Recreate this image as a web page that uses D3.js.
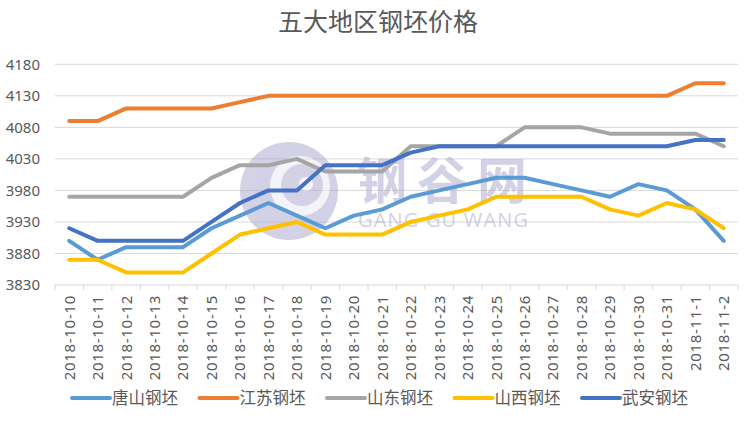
<!DOCTYPE html>
<html>
<head>
<meta charset="utf-8">
<script src="https://cdn.jsdelivr.net/npm/d3@7/dist/d3.min.js"></script>
<style>
  html, body { margin: 0; padding: 0; background: #fff; }
  svg { display: block; }
</style>
</head>
<body>
<svg id="chart" width="750" height="424"></svg>
<script>
const categories = ["2018-10-10","2018-10-11","2018-10-12","2018-10-13","2018-10-14","2018-10-15","2018-10-16","2018-10-17","2018-10-18","2018-10-19","2018-10-20","2018-10-21","2018-10-22","2018-10-23","2018-10-24","2018-10-25","2018-10-26","2018-10-27","2018-10-28","2018-10-29","2018-10-30","2018-10-31","2018-11-1","2018-11-2"];
const seriesNames = ["唐山钢坯","江苏钢坯","山东钢坯","山西钢坯","武安钢坯"];
const tangshan = [3900,3870,3890,3890,3890,3920,3940,3960,3940,3920,3940,3950,3970,3980,3990,4000,4000,3990,3980,3970,3990,3980,3950,3900];
const jiangsu  = [4090,4090,4110,4110,4110,4110,4120,4130,4130,4130,4130,4130,4130,4130,4130,4130,4130,4130,4130,4130,4130,4130,4150,4150];
const shandong = [3970,3970,3970,3970,3970,4000,4020,4020,4030,4010,4010,4010,4050,4050,4050,4050,4080,4080,4080,4070,4070,4070,4070,4050];
const shanxi   = [3870,3870,3850,3850,3850,3880,3910,3920,3930,3910,3910,3910,3930,3940,3950,3970,3970,3970,3970,3950,3940,3960,3950,3920];
const wuan     = [3920,3900,3900,3900,3900,3930,3960,3980,3980,4020,4020,4020,4040,4050,4050,4050,4050,4050,4050,4050,4050,4050,4060,4060];
const yTicks = [3830,3880,3930,3980,4030,4080,4130,4180];
const title = "五大地区钢坯价格";

(function(){
const colors = ["#5B9BD5","#ED7D31","#A5A5A5","#FFC000","#4472C4"];
const seriesValues = [tangshan, jiangsu, shandong, shanxi, wuan];
const series = seriesNames.map((n,i)=>({name:n, values:seriesValues[i], color:colors[i]}));

const svg = d3.select("#chart");
const pLeft = 55, pRight = 738, pTop = 64.3, pBottom = 285;
const font = "'Noto Sans','Noto Sans CJK SC',sans-serif";
const textColor = "#595959";

const x = d3.scaleBand().domain(categories).range([pLeft, pRight]).padding(0);
const xc = d => x(d) + x.bandwidth()/2;
const y = d3.scaleLinear().domain([3830, 4180]).range([pBottom, pTop]);

// title
svg.append("text").attr("x", 378).attr("y", 31)
  .attr("text-anchor","middle").attr("font-family", "'Noto Sans CJK SC',sans-serif")
  .attr("font-size", 25).attr("fill", textColor).text(title);

// gridlines
svg.append("g").selectAll("line").data(yTicks).join("line")
  .attr("x1", pLeft).attr("x2", pRight)
  .attr("y1", d=>y(d)).attr("y2", d=>y(d))
  .attr("stroke", "#d9d9d9").attr("stroke-width", 1);

// y labels
svg.append("g").selectAll("text").data(yTicks).join("text")
  .attr("x", 40).attr("y", d=>y(d)).attr("dy","0.36em")
  .attr("text-anchor","end").attr("font-family", font).attr("font-size", 15)
  .attr("fill", textColor).text(d=>d);

// x tick marks
const tickPos = categories.map(c=>x(c)).concat([pRight]);
svg.append("g").selectAll("line").data(tickPos).join("line")
  .attr("x1", d=>d).attr("x2", d=>d).attr("y1", pBottom).attr("y2", pBottom+5)
  .attr("stroke", "#d9d9d9").attr("stroke-width", 1);

// x labels
svg.append("g").selectAll("text").data(categories).join("text")
  .attr("transform", d=>`translate(${xc(d)},295) rotate(-90)`)
  .attr("dy","0.36em").attr("text-anchor","end")
  .attr("font-family", font).attr("font-size", 15).attr("letter-spacing", 0.7)
  .attr("fill", textColor).text(d=>d);

// watermark
const wm = svg.append("g").attr("opacity", 0.5);
wm.append("circle").attr("cx", 289).attr("cy", 191).attr("r", 49).attr("fill", "#a9a5cc");
wm.append("circle").attr("cx", 300).attr("cy", 186).attr("r", 30).attr("fill", "#ffffff").attr("opacity",0.75);
wm.append("circle").attr("cx", 302).attr("cy", 185).attr("r", 21).attr("fill", "#a9a5cc");
wm.append("circle").attr("cx", 306).attr("cy", 184).attr("r", 7).attr("fill", "#ffffff").attr("opacity",0.8);
wm.append("text").attr("x", 357).attr("y", 199).attr("textLength", 170)
  .attr("font-family","'Noto Sans CJK SC',sans-serif").attr("font-weight","bold")
  .attr("font-size", 50).attr("fill","#a9a5cc").text("钢谷网");
wm.append("text").attr("x", 358).attr("y", 227).attr("textLength", 170)
  .attr("font-family","'Open Sans',sans-serif")
  .attr("font-size", 20).attr("fill","#a9a5cc").text("GANG GU WANG");

// lines
const line = d3.line().x((v,i)=>xc(categories[i])).y(v=>y(v));
svg.append("g").selectAll("path").data(series).join("path")
  .attr("d", d=>line(d.values)).attr("fill","none")
  .attr("stroke", d=>d.color).attr("stroke-width", 4)
  .attr("stroke-linejoin","round").attr("stroke-linecap","round");

// legend
const legendX0 = 72, legendStep = 127.5, legendY = 398;
const lg = svg.append("g").selectAll("g").data(series).join("g")
  .attr("transform", (d,i)=>`translate(${legendX0 + i*legendStep},${legendY})`);
lg.append("line").attr("x1",0).attr("x2",38).attr("y1",0).attr("y2",0)
  .attr("stroke", d=>d.color).attr("stroke-width",4).attr("stroke-linecap","round");
lg.append("text").attr("x", 40).attr("y", 0).attr("dy","0.36em")
  .attr("font-family","'Noto Sans CJK SC',sans-serif").attr("font-size", 16.5)
  .attr("fill", textColor).text(d=>d.name);
})();
</script>
</body>
</html>
